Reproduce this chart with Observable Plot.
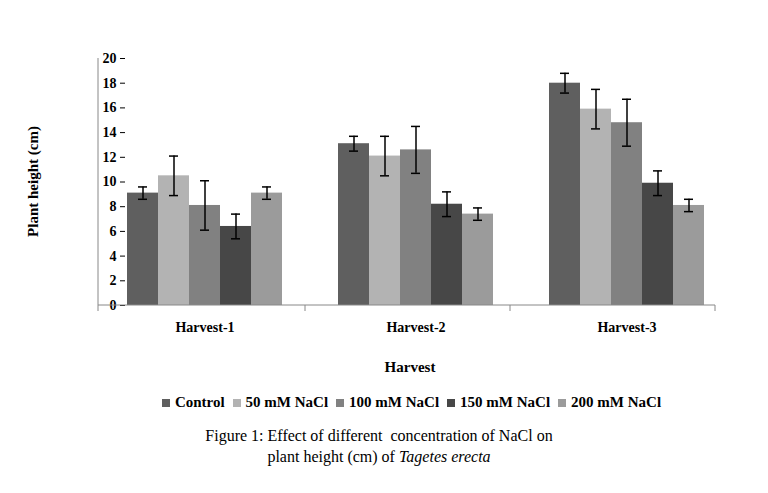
<!DOCTYPE html>
<html><head><meta charset="utf-8">
<script src="https://cdn.jsdelivr.net/npm/d3@7"></script>
<script src="https://cdn.jsdelivr.net/npm/@observablehq/plot@0.6"></script>
<style>
body{margin:0;background:#fff;font-family:"Liberation Serif","DejaVu Serif",serif;}
#legend{display:flex;justify-content:center;gap:8px;font-weight:bold;font-size:15px;margin-left:55px;margin-top:4px}
#legend span{display:inline-flex;align-items:center;gap:5px}
#legend i{display:inline-block;width:8px;height:8px}
#cap{text-align:center;font-size:16px;line-height:21px;margin-top:14px;margin-left:-10px}
</style></head><body>
<div id="chart"></div>
<div id="legend"></div>
<div id="cap">Figure 1: Effect of different &nbsp;concentration of NaCl on<br>plant height (cm) of <i>Tagetes erecta</i></div>
<script>
const harvests = ["Harvest-1","Harvest-2","Harvest-3"];
const series = ["Control","50 mM NaCl","100 mM NaCl","150 mM NaCl","200 mM NaCl"];
const colors = ["#5f5f5f","#b3b3b3","#818181","#474747","#9b9b9b"];
const means = [[9.1,10.5,8.1,6.4,9.1],[13.1,12.1,12.6,8.2,7.4],[18.0,15.9,14.8,9.9,8.1]];
const errs = [[0.5,1.6,2.0,1.0,0.5],[0.6,1.6,1.9,1.0,0.5],[0.8,1.6,1.9,1.0,0.5]];
const yTicks = [0,2,4,6,8,10,12,14,16,18,20];
const data = [];
harvests.forEach((h,i)=>series.forEach((s,j)=>data.push({h,s,v:means[i][j],e:errs[i][j]})));
const plot = Plot.plot({
  width:768,height:390,marginTop:58,marginBottom:85,marginLeft:98,marginRight:34,
  style:{fontFamily:"Liberation Serif, serif",fontSize:"13px",fontWeight:"bold",color:"#000"},
  fx:{domain:harvests,paddingInner:0.245,paddingOuter:0.1226,label:null},
  x:{domain:series,padding:0,axis:null},
  y:{domain:[0,20],ticks:yTicks,label:null},
  color:{domain:series,range:colors},
  marks:[
    Plot.barY(data,{fx:"h",x:"s",y:"v",fill:"s"}),
    Plot.ruleX(data,{fx:"h",x:"s",y1:d=>d.v-d.e,y2:d=>d.v+d.e,stroke:"#000",strokeWidth:1.5}),
    Plot.tickY(data,{fx:"h",x:"s",y:d=>d.v-d.e,stroke:"#000",strokeWidth:1.5,insetLeft:11,insetRight:11}),
    Plot.tickY(data,{fx:"h",x:"s",y:d=>d.v+d.e,stroke:"#000",strokeWidth:1.5,insetLeft:11,insetRight:11}),
    Plot.axisY({ticks:yTicks,tickSize:5,fontSize:14,label:null}),
    Plot.axisFx({anchor:"bottom",tickSize:0,dy:8,fontSize:14,label:null})
  ]
});
const svg = d3.select(plot);
const y = plot.scale("y");
const y0 = y.apply(0), y20 = y.apply(20);
const L=98,R=715;
svg.append("line").attr("x1",L).attr("x2",L).attr("y1",y20).attr("y2",y0).attr("stroke","#888");
svg.append("line").attr("x1",L).attr("x2",R).attr("y1",y0).attr("y2",y0).attr("stroke","#888");
[L,305,510,R].forEach(x=>svg.append("line").attr("x1",x).attr("x2",x).attr("y1",y0).attr("y2",y0+6).attr("stroke","#888"));
svg.append("text").attr("x",410).attr("y",y0+67).attr("text-anchor","middle").attr("font-size",15).attr("font-weight","bold").text("Harvest");
svg.append("text").attr("transform",`translate(38,${(y0+y20)/2}) rotate(-90)`).attr("text-anchor","middle").attr("font-size",15).attr("font-weight","bold").text("Plant height (cm)");
document.getElementById("chart").appendChild(plot);
const lg=document.getElementById("legend");
series.forEach((s,i)=>{const e=document.createElement("span");e.innerHTML=`<i style="background:${colors[i]}"></i>${s}`;lg.appendChild(e);});
</script></body></html>
